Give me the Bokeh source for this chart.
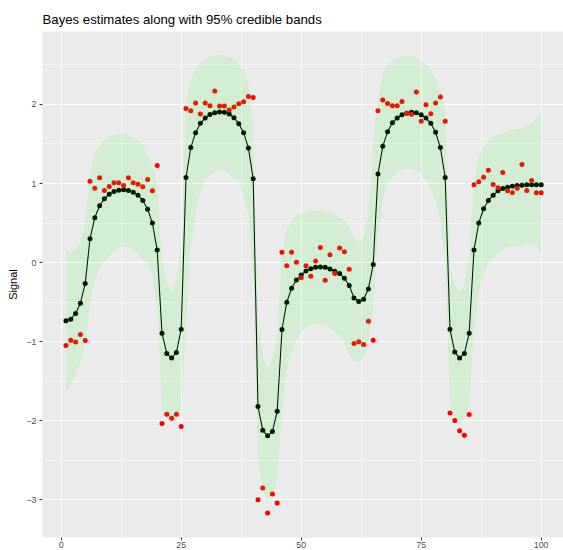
from bokeh.plotting import figure
from bokeh.models import Range1d, FixedTicker, ColumnDataSource
from bokeh.embed import file_html
from bokeh.resources import INLINE

x = list(range(1, 101))

estimate = [
    -0.736, -0.715, -0.643, -0.513, -0.265, 0.302, 0.567, 0.719, 0.807, 0.865,
    0.899, 0.916, 0.920, 0.912, 0.890, 0.853, 0.786, 0.676, 0.500, 0.159,
    -0.892, -1.148, -1.207, -1.135, -0.841, 1.076, 1.454, 1.643, 1.761, 1.828,
    1.874, 1.895, 1.904, 1.900, 1.879, 1.832, 1.757, 1.643, 1.450, 1.059,
    -1.820, -2.120, -2.190, -2.136, -1.879, -0.845, -0.500, -0.324, -0.219, -0.156,
    -0.106, -0.076, -0.059, -0.055, -0.059, -0.080, -0.110, -0.139, -0.198, -0.290,
    -0.446, -0.492, -0.463, -0.333, -0.023, 1.122, 1.470, 1.656, 1.769, 1.828,
    1.870, 1.890, 1.900, 1.895, 1.870, 1.828, 1.761, 1.647, 1.454, 1.076,
    -0.841, -1.131, -1.207, -1.148, -0.892, 0.159, 0.500, 0.681, 0.786, 0.853,
    0.908, 0.937, 0.954, 0.966, 0.975, 0.979, 0.983, 0.983, 0.983, 0.983,
]

observed = [
    -1.047, -0.980, -1.005, -0.908, -0.984, 1.029, 0.941, 1.072, 0.912, 0.962,
    1.009, 1.009, 0.975, 1.072, 1.009, 0.992, 0.958, 1.050, 0.908, 1.227,
    -2.035, -1.917, -1.967, -1.917, -2.073, 1.950, 1.921, 2.018, 1.879, 2.018,
    1.984, 2.169, 1.980, 1.980, 1.929, 1.967, 2.009, 2.034, 2.101, 2.088,
    -2.998, -2.850, -3.165, -2.926, -3.039, 0.130, -0.038, 0.130, 0.004, -0.190,
    -0.040, -0.173, 0.020, 0.190, -0.223, 0.100, -0.139, 0.185, 0.139, -0.085,
    -1.022, -1.000, -1.034, -0.740, -0.980, 1.921, 2.055, 2.013, 1.984, 1.984,
    2.038, 1.890, 1.875, 2.156, 1.786, 1.996, 1.883, 2.018, 2.093, 1.786,
    -1.900, -1.997, -2.127, -2.182, -1.921, 0.983, 1.021, 1.080, 1.168, 0.987,
    0.946, 1.139, 0.908, 0.882, 0.941, 1.240, 0.912, 1.038, 0.882, 0.882,
]

upper = [
    0.18, 0.12, 0.17, 0.25, 0.50, 1.12, 1.40, 1.49, 1.56, 1.60,
    1.62, 1.63, 1.63, 1.62, 1.58, 1.55, 1.48, 1.37, 1.25, 1.00,
    0.05, -0.25, -0.37, -0.22, 0.15, 2.08, 2.32, 2.45, 2.53, 2.58,
    2.61, 2.62, 2.63, 2.62, 2.60, 2.57, 2.51, 2.42, 2.26, 1.75,
    -0.70, -1.19, -1.34, -1.23, -0.90, 0.15, 0.42, 0.53, 0.60, 0.63,
    0.65, 0.66, 0.66, 0.66, 0.65, 0.64, 0.61, 0.57, 0.54, 0.44,
    0.31, 0.26, 0.33, 0.62, 1.55, 2.08, 2.38, 2.50, 2.55, 2.59,
    2.61, 2.62, 2.61, 2.60, 2.56, 2.51, 2.44, 2.33, 2.17, 1.90,
    -0.05, -0.28, -0.37, -0.27, 0.10, 1.05, 1.35, 1.48, 1.55, 1.59,
    1.62, 1.64, 1.66, 1.68, 1.69, 1.70, 1.73, 1.76, 1.82, 1.92,
]

lower = [
    -1.65, -1.55, -1.42, -1.27, -1.02, -0.52, -0.22, -0.07, 0.02, 0.08,
    0.14, 0.18, 0.20, 0.19, 0.15, 0.11, 0.05, -0.02, -0.15, -0.60,
    -1.85, -1.97, -2.02, -1.97, -1.92, -0.80, 0.20, 0.62, 0.90, 1.03,
    1.10, 1.15, 1.17, 1.16, 1.12, 1.06, 1.00, 0.85, 0.58, -0.20,
    -2.55, -2.85, -3.02, -2.92, -2.75, -1.90, -1.35, -1.12, -0.98, -0.88,
    -0.82, -0.79, -0.77, -0.77, -0.79, -0.83, -0.87, -0.93, -1.02, -1.16,
    -1.24, -1.26, -1.20, -1.02, -0.55, 0.35, 0.80, 1.00, 1.08, 1.14,
    1.17, 1.18, 1.18, 1.16, 1.12, 1.05, 0.93, 0.78, 0.55, 0.00,
    -1.80, -1.95, -2.03, -1.97, -1.80, -0.90, -0.35, -0.15, -0.02, 0.06,
    0.12, 0.16, 0.19, 0.20, 0.21, 0.22, 0.23, 0.23, 0.20, 0.07,
]

x_ticks = [0, 25, 50, 75, 100]
x_minor = [12.5, 37.5, 62.5, 87.5]
y_ticks = [-3, -2, -1, 0, 1, 2]
y_minor = [-2.5, -1.5, -0.5, 0.5, 1.5, 2.5]
y_labels = {-3: "\u22123", -2: "\u22122", -1: "\u22121", 0: "0", 1: "1", 2: "2"}

src = ColumnDataSource(dict(x=x, est=estimate, obs=observed, lo=lower, hi=upper))

p = figure(width=563, height=550, output_backend="svg", toolbar_location=None,
           x_range=Range1d(-3.896, 104.65), y_range=Range1d(-3.475, 2.922),
           min_border_left=42, min_border_right=0, min_border_top=31,
           min_border_bottom=13,
           title="Bayes estimates along with 95% credible bands")

p.background_fill_color = "#EBEBEB"
p.border_fill_color = "white"
p.outline_line_color = None

p.title.text_font = "Liberation Sans"
p.title.text_font_size = "13.2px"
p.title.text_font_style = "normal"
p.title.text_color = "black"
p.title.align = "left"
p.title.standoff = 10
p.title.offset = 0

p.xaxis.ticker = FixedTicker(ticks=x_ticks, minor_ticks=x_minor)
p.yaxis.ticker = FixedTicker(ticks=y_ticks, minor_ticks=y_minor)
p.yaxis.major_label_overrides = y_labels

for ax in (p.xaxis[0], p.yaxis[0]):
    ax.axis_line_color = None
    ax.major_tick_line_color = "#333333"
    ax.major_tick_line_width = 1
    ax.major_tick_in = 0
    ax.major_tick_out = 3
    ax.minor_tick_line_color = None
    ax.major_label_text_font = "Liberation Sans"
    ax.major_label_text_font_size = "8.8px"
    ax.major_label_text_color = "#4D4D4D"

p.xaxis.major_label_standoff = 0
p.yaxis.major_label_standoff = 2
p.yaxis.axis_label = "Signal"
p.yaxis.axis_label_text_font = "Liberation Sans"
p.yaxis.axis_label_text_font_size = "11px"
p.yaxis.axis_label_text_font_style = "normal"
p.yaxis.axis_label_text_color = "black"
p.yaxis.axis_label_standoff = 4

for g in (p.xgrid[0], p.ygrid[0]):
    g.grid_line_color = "white"
    g.grid_line_width = 1.07
    g.minor_grid_line_color = "white"
    g.minor_grid_line_width = 0.53

p.line("x", "est", source=src, line_color="black", line_width=1.07)
p.scatter("x", "est", source=src, size=5, fill_color="black", line_color=None)
p.scatter("x", "obs", source=src, size=5, fill_color="red", line_color=None)
p.varea(x="x", y1="lo", y2="hi", source=src, fill_color="#00FF00", fill_alpha=0.1)

open("out.html", "w").write(file_html(p, INLINE))
